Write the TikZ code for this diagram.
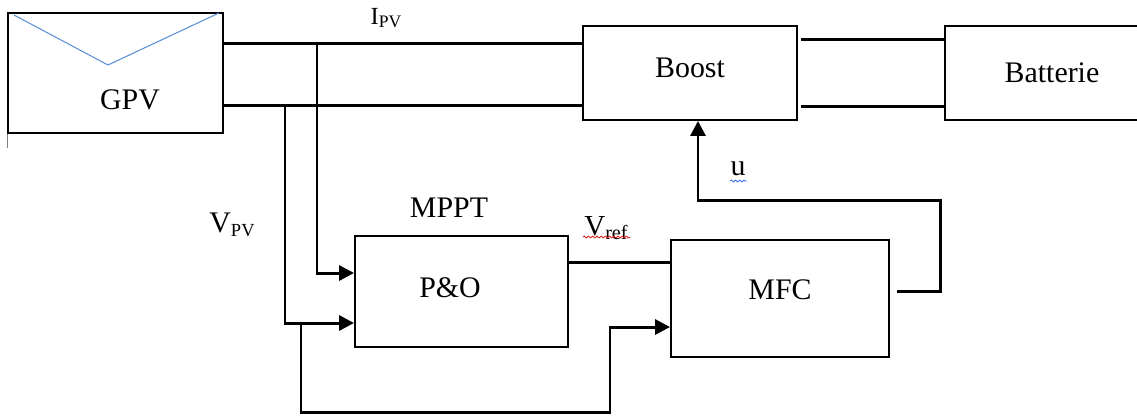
\documentclass[tikz,border=0pt]{standalone}
\usepackage{fontspec}
\setmainfont{Liberation Serif}
\usepackage{xcolor}
\usepackage{tikz}
\usetikzlibrary{arrows.meta, positioning, calc, decorations.pathmorphing}

\definecolor{pvblue}{HTML}{5B8FD6}
\definecolor{spellred}{HTML}{E02020}
\definecolor{spellblue}{HTML}{3A6FE0}
\newcommand{\sbs}[2]{\raisebox{-0.3ex}{\fontsize{#1}{#1}\selectfont #2}}

\begin{document}
\begin{tikzpicture}[
    x=0.02cm, y=-0.02cm,
    block/.style={rectangle, draw, line width=1.1pt, inner sep=0pt, font=\fontsize{17}{20}\selectfont},
    lbl/.style={inner sep=0pt, font=\fontsize{17}{20}\selectfont},
    wire/.style={line width=1.7pt},
    arrow/.style={wire, -{Triangle[length=0.3cm, width=0.3cm]}},
    spell/.style={decorate, decoration={snake, amplitude=0.5pt, segment length=2.4pt}, line width=0.5pt}
]
    \useasboundingbox (0,0) rectangle (1137,417);

    \node[block, minimum width=4.3cm, minimum height=2.4cm] (gpv) at (115.5,73) {};
    \node[block, minimum width=4.28cm, minimum height=1.88cm] (boost) at (690,73) {};
    \node[block, minimum width=4.1cm, minimum height=1.88cm] (bat) at (1047.5,73) {};
    \node[block, minimum width=4.26cm, minimum height=2.22cm] (po) at (461.5,291.5) {};
    \node[block, minimum width=4.36cm, minimum height=2.34cm] (mfc) at (780,298.5) {};

    \node[lbl] (gpvtxt) at (130,100) {GPV};
    \node[lbl] (boosttxt) at (690,68) {Boost};
    \node[lbl] (battxt) at (1052,73) {Batterie};
    \node[lbl] (potxt) at (450,288) {P\&O};
    \node[lbl] (mfctxt) at (780,290) {MFC};
    \node[lbl] (mppt) at (449,208) {MPPT};

    % panel sketch
    \draw[pvblue, line width=0.6pt] (14,15) -- (108,65) -- (219,13);
    \draw[gray, line width=0.4pt] (gpv.south west) -- ++(0,14);

    % signal labels
    \node[inner sep=0pt, font=\fontsize{14}{16}\selectfont] (ipv) at (386,18) {I\sbs{10}{PV}};
    \node[inner sep=0pt, font=\fontsize{17}{19}\selectfont] (vpv) at (232,225) {V\sbs{10.5}{PV}};
    \node[inner sep=0pt, font=\fontsize{16.5}{18}\selectfont] (vref) at (606,228) {V\sbs{11.5}{ref}};
    \node[lbl] (u) at (738,169) {u};
    \draw[spell, spellred] (583,237) -- (630,237);
    \draw[spell, spellblue] (730,181) -- (747,181);

    % power lines
    \coordinate (lt) at (0,43);
    \coordinate (lb) at (0,105);
    \coordinate (rt) at (0,39);
    \coordinate (rb) at (0,106);
    \draw[wire] (gpv.east |- lt) -- (boost.west |- lt);
    \draw[wire] (gpv.east |- lb) -- (boost.west |- lb);
    \draw[wire] ([xshift=0.06cm]boost.east |- rt) -- (bat.west |- rt);
    \draw[wire] ([xshift=0.06cm]boost.east |- rb) -- (bat.west |- rb);

    % measurements to MPPT and MFC
    \coordinate (ji) at (317,43);
    \coordinate (jv) at (285,105);
    \coordinate (jb) at (301,323);
    \coordinate (h1) at (0,273);
    \coordinate (h2) at (0,323);
    \coordinate (low) at (301,412);
    \coordinate (kink) at (610,327);
    \draw[arrow] (ji) |- (po.west |- h1);
    \draw[arrow] (jv) |- (po.west |- h2);
    \draw[arrow] (jb) -- (low) -| (kink) -- (mfc.west |- kink);

    % reference and command
    \coordinate (h3) at (0,262);
    \coordinate (mo) at (897,291);
    \coordinate (ur) at (940,200);
    \coordinate (uk) at (698,200);
    \draw[wire] (po.east |- h3) -- (mfc.west |- h3);
    \draw[arrow] (mo) -| (ur) -- (uk) -- (boost.south -| uk);
\end{tikzpicture}
\end{document}
